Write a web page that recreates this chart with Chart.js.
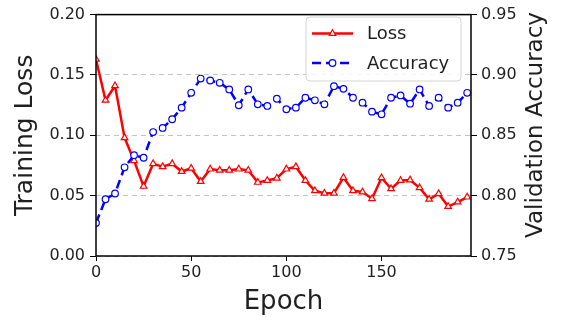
<!DOCTYPE html>
<html>
<head>
<meta charset="utf-8">
<script src="https://cdn.jsdelivr.net/npm/chart.js@4.4.1/dist/chart.umd.min.js"></script>
<style>
html,body{margin:0;padding:0;background:#fff;}
canvas{display:block;}
</style>
</head>
<body>
<canvas id="c" width="562" height="320"></canvas>
<script>
const epochs = [0,5,10,15,20,25,30,35,40,45,50,55,60,65,70,75,80,85,90,95,100,105,110,115,120,125,130,135,140,145,150,155,160,165,170,175,180,185,190,195];
const trainingLoss = [0.163,0.129,0.141,0.098,0.079,0.0577,0.0765,0.074,0.0765,0.070,0.0727,0.0617,0.072,0.071,0.071,0.072,0.071,0.061,0.0625,0.0645,0.072,0.074,0.0625,0.054,0.052,0.052,0.065,0.054,0.053,0.0475,0.0648,0.0557,0.0625,0.063,0.0565,0.047,0.0516,0.041,0.0447,0.0488];
const validationAccuracy = [0.7774,0.797,0.8018,0.8235,0.8335,0.8314,0.8527,0.8561,0.8633,0.8729,0.8852,0.897,0.8954,0.8935,0.888,0.8749,0.888,0.8757,0.8743,0.8803,0.8716,0.8729,0.8811,0.879,0.8757,0.8907,0.8885,0.8811,0.877,0.8696,0.8674,0.8811,0.883,0.8762,0.888,0.8743,0.8811,0.8729,0.877,0.8852];
const xTicks = [0,50,100,150];
const lossTicks = [0.00,0.05,0.10,0.15,0.20];
const accTicks = [0.75,0.80,0.85,0.90,0.95];
const seriesNames = ['Loss','Accuracy'];
const axisTitles = {x:'Epoch', left:'Training Loss', right:'Validation Accuracy'};

const FONT = '"DejaVu Sans", sans-serif';
const TXT = '#1f1f1f';

const framePlugin = {
  id:'frame',
  afterDatasetsDraw(chart){
    const {ctx, chartArea:a} = chart;
    ctx.save();
    ctx.strokeStyle='#000'; ctx.lineWidth=1.5;
    ctx.strokeRect(a.left, a.top, a.right-a.left, a.bottom-a.top);
    ctx.restore();
  }
};

const extrasPlugin = {
  id:'extras',
  afterDraw(chart){
    const {ctx, chartArea:a} = chart;
    ctx.save();
    ctx.fillStyle = TXT;
    ctx.font = '23px ' + FONT;
    ctx.textAlign='center'; ctx.textBaseline='middle';
    ctx.translate(536, 125);
    ctx.rotate(-Math.PI/2);
    ctx.fillText(axisTitles.right, 0, 0);
    ctx.restore();

    ctx.save();
    const bx=306, by=17, bw=155, bh=64, r=4;
    ctx.beginPath();
    ctx.moveTo(bx+r,by); ctx.lineTo(bx+bw-r,by); ctx.quadraticCurveTo(bx+bw,by,bx+bw,by+r);
    ctx.lineTo(bx+bw,by+bh-r); ctx.quadraticCurveTo(bx+bw,by+bh,bx+bw-r,by+bh);
    ctx.lineTo(bx+r,by+bh); ctx.quadraticCurveTo(bx,by+bh,bx,by+bh-r);
    ctx.lineTo(bx,by+r); ctx.quadraticCurveTo(bx,by,bx+r,by);
    ctx.closePath();
    ctx.fillStyle='rgba(255,255,255,0.85)'; ctx.fill();
    ctx.strokeStyle='#d4d4d4'; ctx.lineWidth=1; ctx.stroke();

    const ds = chart.data.datasets;
    const rows = [{y:33.5, d:ds[1]}, {y:63, d:ds[0]}];
    rows.forEach(row=>{
      const d=row.d;
      ctx.strokeStyle=d.borderColor; ctx.lineWidth=d.borderWidth;
      ctx.setLineDash(d.borderDash||[]);
      ctx.beginPath(); ctx.moveTo(312,row.y); ctx.lineTo(353,row.y); ctx.stroke();
      ctx.setLineDash([]);
      ctx.lineWidth=1.2; ctx.fillStyle='#fff'; ctx.strokeStyle=d.borderColor;
      ctx.beginPath();
      if(d.pointStyle==='triangle'){
        const s=3.8; const cx=332.5, cy=row.y;
        ctx.moveTo(cx, cy-s); ctx.lineTo(cx+s*0.87, cy+s*0.5); ctx.lineTo(cx-s*0.87, cy+s*0.5); ctx.closePath();
      } else {
        ctx.arc(332.5,row.y,3.3,0,Math.PI*2);
      }
      ctx.fill(); ctx.stroke();
      ctx.fillStyle=TXT; ctx.font='18px '+FONT; ctx.textAlign='left'; ctx.textBaseline='middle';
      ctx.fillText(d.label, 367, row.y+1);
    });
    ctx.restore();
  }
};

new Chart(document.getElementById('c'), {
  type:'line',
  data:{
    datasets:[
      {
        label:seriesNames[1], yAxisID:'y1', order:0,
        data: epochs.map((e,i)=>({x:e,y:validationAccuracy[i]})),
        borderColor:'#0000ff', borderWidth:2.5, borderDash:[9,5],
        pointStyle:'circle', pointRadius:3.3, pointBorderWidth:1.2,
        pointBackgroundColor:'#fff', pointBorderColor:'#0000ff',
        tension:0, fill:false
      },
      {
        label:seriesNames[0], yAxisID:'y', order:1,
        data: epochs.map((e,i)=>({x:e,y:trainingLoss[i]})),
        borderColor:'#ff0000', borderWidth:2.5,
        pointStyle:'triangle', pointRadius:3.8, pointBorderWidth:1.2,
        pointBackgroundColor:'#fff', pointBorderColor:'#ff0000',
        tension:0, fill:false
      }
    ]
  },
  options:{
    responsive:false, animation:false, devicePixelRatio:1,
    layout:{padding:{top:13,left:0,right:0,bottom:0}},
    plugins:{legend:{display:false}, tooltip:{enabled:false}},
    scales:{
      x:{
        type:'linear', min:0, max:197,
        afterBuildTicks(s){ s.ticks = xTicks.map(v=>({value:v})); },
        afterFit(s){ s.height = 64; },
        ticks:{font:{family:FONT,size:16}, color:TXT, padding:2, maxRotation:0},
        grid:{drawOnChartArea:false, tickLength:5, color:'#000', tickColor:'#000', lineWidth:1},
        border:{display:false},
        title:{display:true, text:axisTitles.x, font:{family:FONT,size:26}, color:TXT, padding:{top:0,bottom:2}}
      },
      y:{
        type:'linear', position:'left', min:0, max:0.2,
        afterBuildTicks(s){ s.ticks = lossTicks.map(v=>({value:v})); },
        afterFit(s){ s.width = 96; },
        ticks:{font:{family:FONT,size:16}, color:TXT, padding:5, callback:v=>v.toFixed(2)},
        grid:{color:'#c4c4c4', lineWidth:1, tickLength:6, tickColor:'#000', tickWidth:1},
        border:{display:false, dash:[5,4]},
        title:{display:true, text:axisTitles.left, font:{family:FONT,size:25}, color:TXT, padding:{top:10,bottom:0}}
      },
      y1:{
        type:'linear', position:'right', min:0.75, max:0.95,
        afterBuildTicks(s){ s.ticks = accTicks.map(v=>({value:v})); },
        afterFit(s){ s.width = 91; },
        ticks:{font:{family:FONT,size:16}, color:TXT, padding:4, callback:v=>v.toFixed(2)},
        grid:{drawOnChartArea:false, tickLength:6, tickColor:'#000', color:'#000'},
        border:{display:false}
      }
    }
  },
  plugins:[framePlugin, extrasPlugin]
});
</script>
</body>
</html>
